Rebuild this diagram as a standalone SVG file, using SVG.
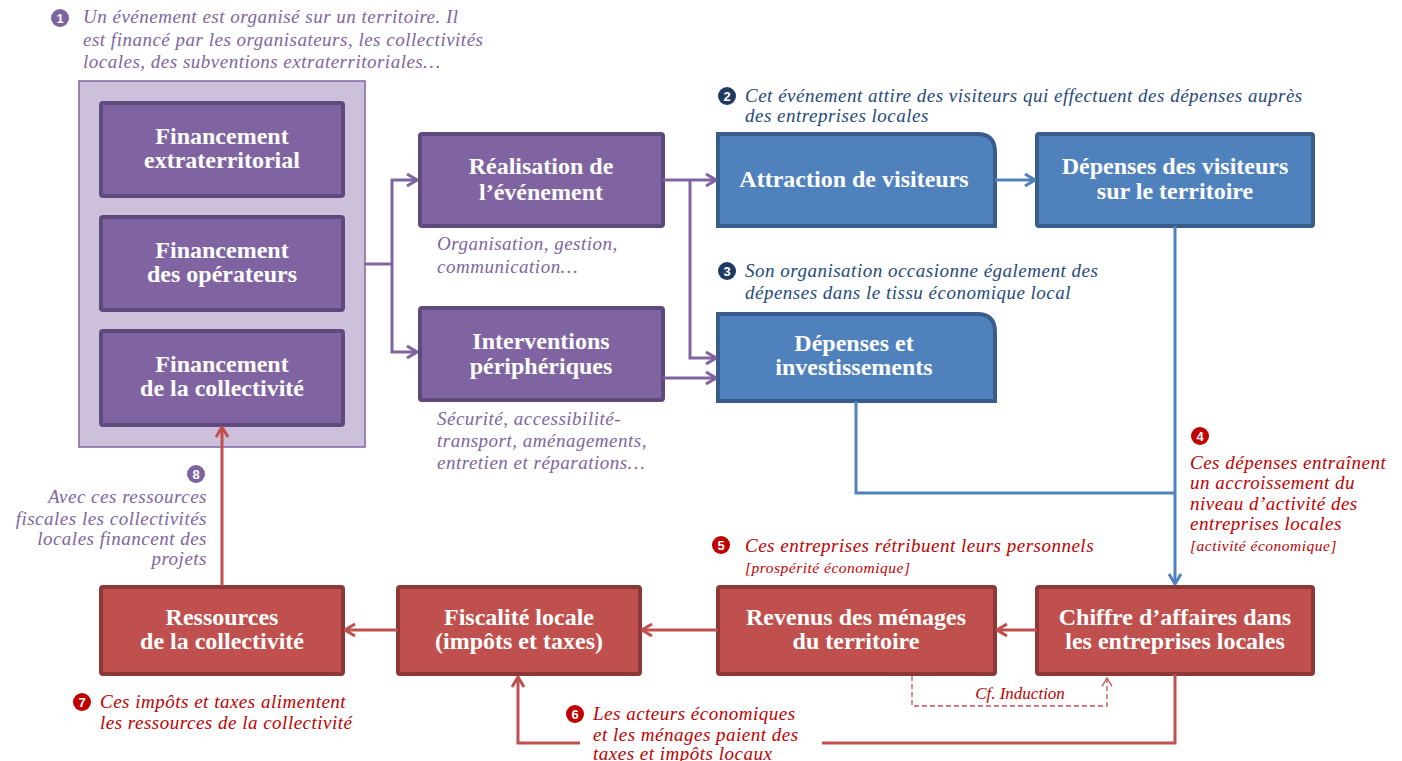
<svg xmlns="http://www.w3.org/2000/svg" width="1402" height="761" viewBox="0 0 1402 761">
<style>
.t{font-family:"Liberation Serif","Times New Roman",serif;font-weight:bold;font-size:24px;fill:#fff;text-anchor:middle}
.a{font-family:"Liberation Serif","Times New Roman",serif;font-style:italic;font-size:19px;letter-spacing:0.5px}
.s{font-size:15.5px}
.pu{fill:#8064a2}.nv{fill:#1f497d}.rd{fill:#c00000}
.bp{fill:#8064a2;stroke:#5f4a7e;stroke-width:4}
.bb{fill:#4f81bd;stroke:#385d8a;stroke-width:4}
.br{fill:#c0504d;stroke:#8c3836;stroke-width:4}
.cp{fill:none;stroke:#8064a2;stroke-width:3}
.cb{fill:none;stroke:#4f81bd;stroke-width:3}
.cr{fill:none;stroke:#c0504d;stroke-width:3}
.cd{fill:none;stroke:#c0504d;stroke-width:1.3;stroke-dasharray:5 3}
.n{font-family:"Liberation Sans",Arial,sans-serif;font-weight:bold;font-size:13px;fill:#fff;text-anchor:middle}
</style>
<defs>
<marker id="mp" viewBox="0 0 12 14" refX="11" refY="7" markerWidth="12" markerHeight="14" markerUnits="userSpaceOnUse" orient="auto"><path d="M1,1 L11,7 L1,13" fill="none" stroke="#8064a2" stroke-width="3"/></marker>
<marker id="mb" viewBox="0 0 12 14" refX="11" refY="7" markerWidth="12" markerHeight="14" markerUnits="userSpaceOnUse" orient="auto"><path d="M1,1 L11,7 L1,13" fill="none" stroke="#4f81bd" stroke-width="3"/></marker>
<marker id="mr" viewBox="0 0 12 14" refX="11" refY="7" markerWidth="12" markerHeight="14" markerUnits="userSpaceOnUse" orient="auto"><path d="M1,1 L11,7 L1,13" fill="none" stroke="#c0504d" stroke-width="3"/></marker>
<marker id="md" viewBox="0 0 12 14" refX="11" refY="7" markerWidth="10" markerHeight="12" markerUnits="userSpaceOnUse" orient="auto"><path d="M1,1 L11,7 L1,13" fill="none" stroke="#c0504d" stroke-width="1.5"/></marker>
</defs>
<rect width="1402" height="761" fill="#fff"/>

<g id="financement-group"><rect x="79" y="81" width="286" height="366" fill="#ccc0da" stroke="#8064a2" stroke-width="1.5"/></g>
<g id="fin-extra"><rect class="bp" x="101" y="103" width="242" height="93" rx="2"/><text class="t" x="222" y="144">Financement</text><text class="t" x="222" y="168">extraterritorial</text></g>
<g id="fin-oper"><rect class="bp" x="101" y="217" width="242" height="93" rx="2"/><text class="t" x="222" y="258">Financement</text><text class="t" x="222" y="282">des opérateurs</text></g>
<g id="fin-coll"><rect class="bp" x="101" y="331" width="242" height="94" rx="2"/><text class="t" x="222" y="372">Financement</text><text class="t" x="222" y="396">de la collectivité</text></g>

<g id="realisation"><rect class="bp" x="420" y="134" width="243" height="92" rx="2"/><text class="t" x="541" y="174">Réalisation de</text><text class="t" x="541" y="200">l’événement</text></g>
<g id="interventions"><rect class="bp" x="420" y="308" width="243" height="92" rx="2"/><text class="t" x="541" y="349">Interventions</text><text class="t" x="541" y="374">périphériques</text></g>

<g id="attraction"><path class="bb" d="M718,134 H977 Q995,134 995,152 V226 H718 Z"/><text class="t" x="854" y="187">Attraction de visiteurs</text></g>
<g id="depenses-visiteurs"><rect class="bb" x="1037" y="134" width="276" height="92" rx="2"/><text class="t" x="1175" y="174">Dépenses des visiteurs</text><text class="t" x="1175" y="199">sur le territoire</text></g>
<g id="depenses-invest"><path class="bb" d="M718,314 H977 Q995,314 995,332 V401 H718 Z"/><text class="t" x="854" y="351">Dépenses et</text><text class="t" x="854" y="375">investissements</text></g>

<g id="chiffre"><rect class="br" x="1037" y="587" width="276" height="87" rx="2"/><text class="t" x="1175" y="625">Chiffre d’affaires dans</text><text class="t" x="1175" y="649">les entreprises locales</text></g>
<g id="revenus"><rect class="br" x="718" y="587" width="277" height="87" rx="2"/><text class="t" x="856" y="625">Revenus des ménages</text><text class="t" x="856" y="649">du territoire</text></g>
<g id="fiscalite"><rect class="br" x="398" y="587" width="242" height="87" rx="2"/><text class="t" x="519" y="625">Fiscalité locale</text><text class="t" x="519" y="649">(impôts et taxes)</text></g>
<g id="ressources"><rect class="br" x="101" y="587" width="242" height="87" rx="2"/><text class="t" x="222" y="625">Ressources</text><text class="t" x="222" y="649">de la collectivité</text></g>

<g id="connectors">
<path class="cp" d="M365,264 H392"/>
<path class="cp" d="M392,264 V180 H417" marker-end="url(#mp)"/>
<path class="cp" d="M392,264 V352 H417" marker-end="url(#mp)"/>
<path class="cp" d="M663,180 H716" marker-end="url(#mp)"/>
<path class="cp" d="M690,180 V358 H716" marker-end="url(#mp)"/>
<path class="cp" d="M663,378 H716" marker-end="url(#mp)"/>
<path class="cb" d="M995,180 H1035" marker-end="url(#mb)"/>
<path class="cb" d="M1175,226 V584" marker-end="url(#mb)"/>
<path class="cb" d="M856,401 V493 H1175"/>
<path class="cr" d="M1037,630 H997" marker-end="url(#mr)"/>
<path class="cr" d="M718,630 H642" marker-end="url(#mr)"/>
<path class="cr" d="M398,630 H345" marker-end="url(#mr)"/>
<path class="cr" d="M222,586 V427" marker-end="url(#mr)"/>
<path class="cr" d="M1175,674 V743 H822"/>
<path class="cr" d="M580,743 H518 V677" marker-end="url(#mr)"/>
<path class="cd" d="M912,676 V706 H1107 V678" marker-end="url(#md)"/>
</g>

<g id="note1"><circle cx="60" cy="18" r="9" fill="#8064a2"/><text class="n" x="60" y="23">1</text>
<text class="a pu" x="83" y="23">Un événement est organisé sur un territoire. Il</text>
<text class="a pu" x="83" y="46">est financé par les organisateurs, les collectivités</text>
<text class="a pu" x="83" y="68">locales, des subventions extraterritoriales…</text></g>

<g id="note2"><circle cx="727" cy="96" r="9" fill="#1f3864"/><text class="n" x="727" y="101">2</text>
<text class="a nv" x="745" y="102">Cet événement attire des visiteurs qui effectuent des dépenses auprès</text>
<text class="a nv" x="745" y="122">des entreprises locales</text></g>

<g id="note-org"><text class="a pu" x="437" y="250">Organisation, gestion,</text><text class="a pu" x="437" y="273">communication…</text></g>

<g id="note3"><circle cx="727" cy="271" r="9" fill="#1f3864"/><text class="n" x="727" y="276">3</text>
<text class="a nv" x="745" y="277">Son organisation occasionne également des</text>
<text class="a nv" x="745" y="299">dépenses dans le tissu économique local</text></g>

<g id="note-sec"><text class="a pu" x="437" y="425">Sécurité, accessibilité-</text><text class="a pu" x="437" y="447">transport, aménagements,</text><text class="a pu" x="437" y="469">entretien et réparations…</text></g>

<g id="note4"><circle cx="1200" cy="436" r="9" fill="#c00000"/><text class="n" x="1200" y="441">4</text>
<text class="a rd" x="1190" y="469">Ces dépenses entraînent</text>
<text class="a rd" x="1190" y="489">un accroissement du</text>
<text class="a rd" x="1190" y="510">niveau d’activité des</text>
<text class="a rd" x="1190" y="530">entreprises locales</text>
<text class="a s rd" x="1190" y="551">[activité économique]</text></g>

<g id="note5"><circle cx="721" cy="545" r="9" fill="#c00000"/><text class="n" x="721" y="550">5</text>
<text class="a rd" x="745" y="552">Ces entreprises rétribuent leurs personnels</text>
<text class="a s rd" x="745" y="573">[prospérité économique]</text></g>

<g id="note-induction"><text class="a rd" x="1020" y="699" text-anchor="middle" style="font-size:17px;letter-spacing:0">Cf. Induction</text></g>

<g id="note6"><circle cx="575" cy="714" r="9" fill="#c00000"/><text class="n" x="575" y="719">6</text>
<text class="a rd" x="593" y="720">Les acteurs économiques</text>
<text class="a rd" x="593" y="741">et les ménages paient des</text>
<text class="a rd" x="593" y="760">taxes et impôts locaux</text></g>

<g id="note7"><circle cx="82" cy="702" r="9" fill="#c00000"/><text class="n" x="82" y="707">7</text>
<text class="a rd" x="100" y="708">Ces impôts et taxes alimentent</text>
<text class="a rd" x="100" y="729">les ressources de la collectivité</text></g>

<g id="note8"><circle cx="196" cy="474" r="9" fill="#8064a2"/><text class="n" x="196" y="479">8</text>
<text class="a pu" x="207" y="503" text-anchor="end">Avec ces ressources</text>
<text class="a pu" x="207" y="525" text-anchor="end">fiscales les collectivités</text>
<text class="a pu" x="207" y="545" text-anchor="end">locales financent des</text>
<text class="a pu" x="207" y="565" text-anchor="end">projets</text></g>
</svg>
